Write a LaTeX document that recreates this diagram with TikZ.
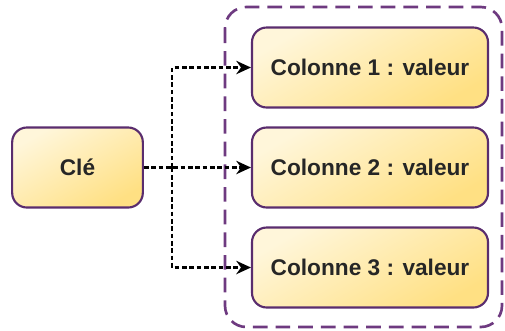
\documentclass[tikz,border=0pt]{standalone}
\usepackage{fontspec}
\setmainfont{Liberation Sans}
\usetikzlibrary{arrows.meta}
\definecolor{boxline}{HTML}{5A2D6E}
\definecolor{frameline}{HTML}{6E3A80}
\definecolor{fillA}{HTML}{FFF6DA}
\definecolor{fillB}{HTML}{FFE083}
\tikzset{
  keybox/.style={draw=boxline, line width=1.6pt, rounded corners=11pt,
    top color=fillA, bottom color=fillB, shading angle=30,
    minimum height=60pt, inner sep=0pt,
    font=\fontsize{17}{20}\selectfont\bfseries, text=black!85},
  link/.style={dash pattern=on 3.5pt off 2pt, line width=1.7pt, black},
  arr/.style={link, -{Stealth[length=11pt,width=10pt]}}
}
\begin{document}
\begin{tikzpicture}[x=0.75pt,y=-0.75pt]
\useasboundingbox (0,0) rectangle (505,330);
\draw[frameline, line width=2pt, dash pattern=on 11pt off 6pt, rounded corners=16pt]
  (225,7) rectangle (502,327);
\node[keybox, minimum width=98pt] (cle) at (77.5,167.5) {Clé};
\node[keybox, minimum width=177pt] (c1) at (370,67.5) {Colonne 1 : valeur};
\node[keybox, minimum width=177pt] (c2) at (370,167.5) {Colonne 2 : valeur};
\node[keybox, minimum width=177pt] (c3) at (370,267.5) {Colonne 3 : valeur};
\coordinate (j) at (172,167.5);
\draw[arr] (cle.east) -- (c2.west);
\draw[arr] (j) |- (c1.west);
\draw[arr] (j) |- (c3.west);
\end{tikzpicture}
\end{document}
